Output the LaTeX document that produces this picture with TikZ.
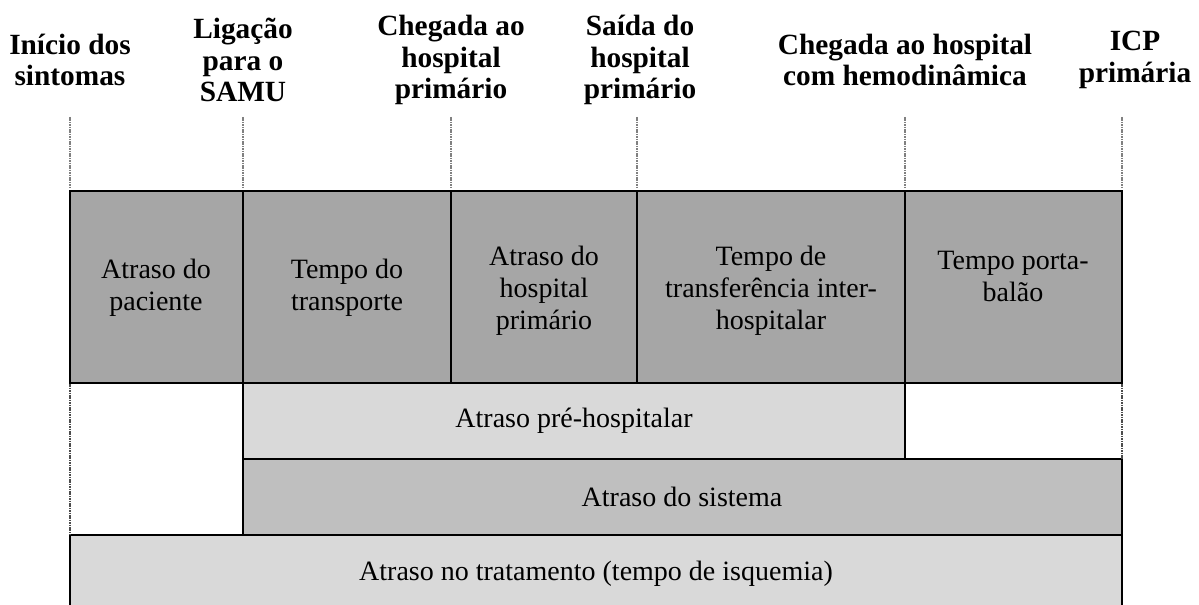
\documentclass[tikz,border=0pt]{standalone}
\usepackage{fontspec}
\setmainfont{Liberation Serif}
\definecolor{gdark}{HTML}{A6A6A6}
\definecolor{gmid}{HTML}{BFBFBF}
\definecolor{glight}{HTML}{D9D9D9}
\begin{document}
\begin{tikzpicture}[x=0.75pt,y=-0.75pt,
  head/.style={align=center,font=\fontsize{22}{23.5}\selectfont\bfseries},
  lbl/.style={align=center,font=\fontsize{21}{24}\selectfont},
  thickline/.style={line width=1.9pt,black},
  thinline/.style={line width=1.5pt,black},
  dotline/.style={line width=1.3pt,gray,dash pattern=on 1.2pt off 0.6pt},
  dotborder/.style={line width=1.6pt,black!70,dash pattern=on 1.2pt off 0.6pt}]
\useasboundingbox (0,0) rectangle (1199,605);
% headers
\node[head] (h1) at (70,60) {Início dos\\sintomas};
\node[head] (h2) at (243,60) {Ligação\\para o\\SAMU};
\node[head] (h3) at (451,60) {Chegada ao\\hospital\\primário};
\node[head] (h4) at (640,60) {Saída do\\hospital\\primário};
\node[head] (h5) at (905,60) {Chegada ao hospital\\com hemodinâmica};
\node[head] (h6) at (1135,60) {ICP\\primária};
% dotted guide lines
\foreach \x in {70,243,451,637,905,1122}{
  \draw[dotline] (\x,117) -- (\x,187);
}
% fills
\fill[gdark] (70,191) rectangle (1122,383);
\fill[glight] (243,383) rectangle (905,459);
\fill[gmid] (243,459) rectangle (1122,535);
\fill[glight] (70,535) rectangle (1122,610);
% borders
\draw[thinline] (243,191) -- (243,383);
\draw[thinline] (451,191) -- (451,383);
\draw[thinline] (637,191) -- (637,383);
\draw[thinline] (905,191) -- (905,459);
\draw[thinline] (243,383) -- (243,535);
\draw[thinline] (243,459) -- (1122,459);
\draw[thinline] (70,535) -- (1122,535);
\draw[thickline] (70,610) -- (70,535);
\draw[thickline] (1122,459) -- (1122,610);
\draw[dotborder] (70,383) -- (70,535);
\draw[dotborder] (1122,383) -- (1122,459);
\draw[thickline] (70,191) rectangle (1122,383);
% labels
\node[lbl] (a1) at (156,288) {Atraso do\\paciente};
\node[lbl] (a2) at (347,288) {Tempo do\\transporte};
\node[lbl] (a3) at (544,291) {Atraso do\\hospital\\primário};
\node[lbl] (a4) at (771,291) {Tempo de\\transferência inter-\\hospitalar};
\node[lbl] (a5) at (1013,276) {Tempo porta-\\balão};
\node[lbl] (b1) at (574,421) {Atraso pré-hospitalar};
\node[lbl] (b2) at (682,497) {Atraso do sistema};
\node[lbl] (b3) at (596,574) {Atraso no tratamento (tempo de isquemia)};
\end{tikzpicture}
\end{document}
